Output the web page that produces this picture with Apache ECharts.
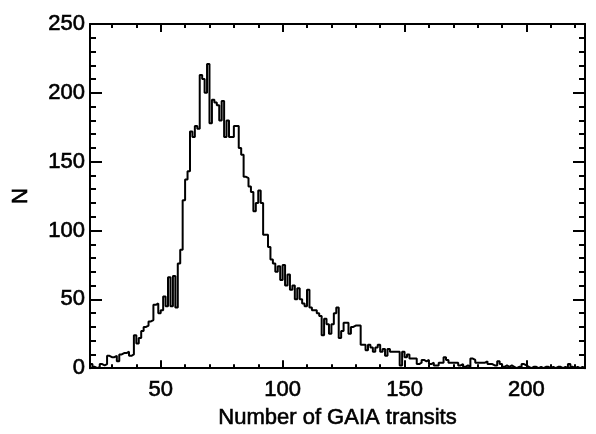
<!DOCTYPE html>
<html>
<head>
<meta charset="utf-8">
<script src="https://cdn.jsdelivr.net/npm/echarts@6/dist/echarts.min.js"></script>
<style>
  html, body { margin: 0; padding: 0; background: #fff; }
  #chart { width: 596px; height: 434px; }
</style>
</head>
<body>
<div id="chart"></div>
<script>
// histogram: one bin per transit count, first bin starts at 21
const binStart = 21;
const counts = [
  3, 1, 0, 1, 3, 2, 3, 9, 8, 8,            // 21-30
  9, 5, 10, 11, 11, 12, 9, 10, 24, 18,     // 31-40
  22, 27, 30, 31, 34, 35, 46, 47, 40, 42,  // 41-50
  52, 45, 66, 45, 67, 44, 76, 86, 122, 137,      // 51-60
  143, 172, 168, 176, 174, 213, 210, 200, 221, 178, // 61-70
  195, 193, 191, 180, 194, 168, 180, 168, 168, 176, // 71-80
  176, 160, 155, 139, 138, 132, 128, 114, 120, 129, // 81-90
  120, 97, 97, 88, 79, 76, 70, 74, 64, 75,  // 91-100
  60, 68, 57, 60, 50, 58, 50, 47, 45, 57,   // 101-110
  44, 42, 42, 40, 38, 24, 36, 32, 25, 32,   // 111-120
  40, 44, 22, 27, 33, 33, 25, 30, 31, 31,   // 121-130
  31, 17, 17, 13, 17, 15, 12, 15, 17, 12,   // 131-140
  14, 9, 14, 12, 12, 12, 12, 2, 12, 8,      // 141-150
  10, 7, 7, 7, 3, 4, 6, 5, 6, 3,            // 151-160
  4, 2, 2, 4, 4, 8, 6, 4, 4, 4,             // 161-170
  4, 2, 3, 1, 2, 1, 7, 6, 4, 4,             // 171-180
  4, 4, 5, 3, 3, 2, 2, 5, 3, 1,             // 181-190
  2, 1, 2, 1, 0, 1, 1, 3, 2, 1,             // 191-200
  0, 1, 1, 0, 1, 0, 1, 1, 0, 1,             // 201-210
  0, 1, 1, 0, 1, 0, 3, 1, 0, 1,             // 211-220
  0, 1, 0                                   // 221-223
];

const xMajor = [50, 100, 150, 200];
const xMinor = [30, 40, 60, 70, 80, 90, 110, 120, 130, 140, 160, 170, 180, 190, 210, 220];
const xRange = [21, 224];
const yRange = [0, 250];

// step line: left edge of each bin + closing edge
const stepData = counts.map((c, i) => [binStart + i, c]);
stepData.push([binStart + counts.length, counts[counts.length - 1]]);

const font = 'Liberation Sans, Arial, Helvetica, sans-serif';
const black = '#000';
// slight outline so the text looks as heavy as the scanned original
const textStyle = { color: black, fontSize: 22, fontFamily: font, textBorderColor: black, textBorderWidth: 0.6 };

function xAx(pos, ticks, len, showLine, showLabel) {
  return {
    type: 'value',
    position: pos,
    min: xRange[0],
    max: xRange[1],
    axisLine: { show: showLine, onZero: false, lineStyle: { color: black, width: 2 } },
    axisTick: { show: true, inside: true, length: len, customValues: ticks, lineStyle: { color: black, width: 2 } },
    axisLabel: showLabel
      ? Object.assign({ show: true, customValues: xMajor, margin: 11 }, textStyle)
      : { show: false },
    splitLine: { show: false }
  };
}

function yAx(pos, showLabel) {
  return {
    type: 'value',
    position: pos,
    min: yRange[0],
    max: yRange[1],
    interval: 50,
    axisLine: { show: true, onZero: false, lineStyle: { color: black, width: 2 } },
    axisTick: { show: true, inside: true, length: 12, lineStyle: { color: black, width: 2 } },
    minorTick: { show: true, splitNumber: 5, length: 6, lineStyle: { color: black, width: 2 } },
    axisLabel: showLabel
      ? Object.assign({ show: true, margin: 5 }, textStyle)
      : { show: false },
    splitLine: { show: false }
  };
}

const chart = echarts.init(document.getElementById('chart'));

const xAxes = [
  xAx('bottom', xMajor, 8, true, true),
  xAx('bottom', xMinor, 4, false, false),
  xAx('top', xMajor, 8, true, false),
  xAx('top', xMinor, 4, false, false)
];
xAxes[0].name = 'Number of GAIA transits';
xAxes[0].nameLocation = 'middle';
xAxes[0].nameGap = 35;
xAxes[0].nameTextStyle = textStyle;

const yAxes = [yAx('left', true), yAx('right', false)];
yAxes[0].name = 'N';
yAxes[0].nameLocation = 'middle';
yAxes[0].nameGap = 58;
yAxes[0].nameRotate = 90;
yAxes[0].nameTextStyle = textStyle;

chart.setOption({
  animation: false,
  backgroundColor: '#fff',
  grid: { left: 90, right: 11, top: 24, bottom: 63 },
  xAxis: xAxes,
  yAxis: yAxes,
  series: [
    {
      type: 'line',
      step: 'end',
      xAxisIndex: 0,
      yAxisIndex: 0,
      data: stepData,
      showSymbol: false,
      lineStyle: { color: black, width: 2 },
      clip: true
    }
  ]
});
</script>
</body>
</html>
